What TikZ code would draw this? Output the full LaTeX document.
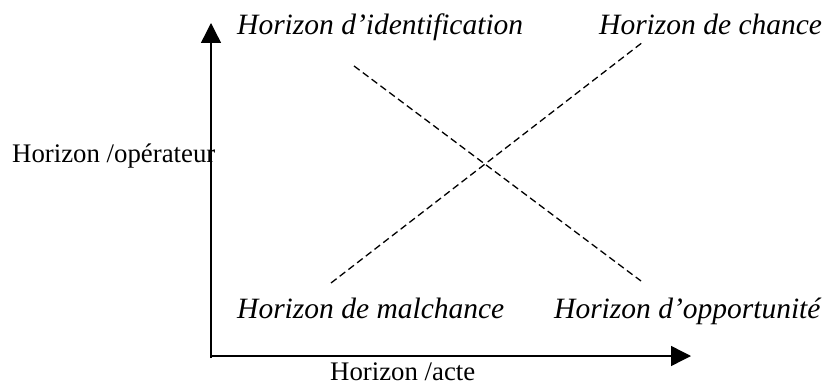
\documentclass[tikz,border=0pt]{standalone}
\usepackage{fontspec}
\setmainfont{Liberation Serif}
\usetikzlibrary{arrows.meta}
\begin{document}
\begin{tikzpicture}[x=1pt,y=-1pt,
  itlabel/.style={anchor=base west,inner sep=0pt,font=\fontsize{29.5}{32}\selectfont\itshape},
  uplabel/.style={anchor=base west,inner sep=0pt,font=\fontsize{26.8}{28}\selectfont},
  axis/.style={line width=1.4pt,-{Triangle[length=20pt,width=20pt]}},
  dashline/.style={line width=1.3pt,dash pattern=on 7pt off 4pt}]
\useasboundingbox (0,0) rectangle (824,385);
\coordinate (O) at (211,358);
\coordinate (Ytop) at (211,23);
\coordinate (Hstart) at (210.3,356);
\coordinate (Xend) at (691,356);
\draw[axis] (O) -- (Ytop);
\draw[axis] (Hstart) -- (Xend);
\coordinate (a1) at (354,66);
\coordinate (a2) at (641,281);
\coordinate (b1) at (331,283);
\coordinate (b2) at (643,42);
\draw[dashline] (a1) -- (a2);
\draw[dashline] (b1) -- (b2);
\node[itlabel] (ident) at (237,35) {Horizon d’identification};
\node[itlabel] (chance) at (599,35) {Horizon de chance};
\node[itlabel] (malch) at (237,318) {Horizon de malchance};
\node[itlabel] (opport) at (554,318) {Horizon d’opportunité};
\node[uplabel] (oper) at (12,162) {Horizon /opérateur};
\node[uplabel] (acte) at (330,380) {Horizon /acte};
\end{tikzpicture}
\end{document}
